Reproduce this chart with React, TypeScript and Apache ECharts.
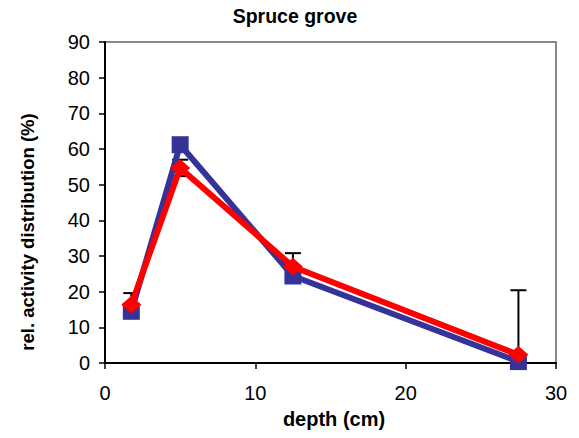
import React, { useEffect, useRef } from "react";
import * as echarts from "echarts";

const depth = [1.75, 5, 12.5, 27.5];
const seriesBlue = [14.5, 61.2, 24.4, 0.4];
const seriesRed = [16.3, 54.7, 27.0, 2.3];
const redError = [3.3, 2.3, 3.8, 18.1];
const yTicks = [0, 10, 20, 30, 40, 50, 60, 70, 80, 90];
const xTicks = [0, 10, 20, 30];

const FONT = 'Arial, "Liberation Sans", sans-serif';

export default function App() {
  const ref = useRef<HTMLDivElement>(null);
  useEffect(() => {
    document.body.style.margin = "0";
    const chart = echarts.init(ref.current!, null, { renderer: "svg" });
    const errData = depth.map((d, i) => [d, seriesRed[i] - redError[i], seriesRed[i] + redError[i]]);
    chart.setOption({
      animation: false,
      backgroundColor: "#ffffff",
      textStyle: { fontFamily: FONT },
      grid: {
        left: 105,
        right: 23,
        top: 42,
        bottom: 75,
        show: true,
        borderColor: "#888888",
        borderWidth: 2,
        backgroundColor: "#ffffff",
      },
      xAxis: {
        type: "value",
        min: xTicks[0],
        max: xTicks[xTicks.length - 1],
        interval: 10,
        axisLine: { show: true, onZero: false, lineStyle: { color: "#000", width: 2 } },
        axisTick: { show: true, inside: false, length: 6, lineStyle: { color: "#000", width: 1.5 } },
        axisLabel: { color: "#000", fontSize: 20, margin: 20, fontFamily: FONT },
        splitLine: { show: false },
      },
      yAxis: {
        type: "value",
        min: yTicks[0],
        max: yTicks[yTicks.length - 1],
        interval: 10,
        axisLine: { show: true, onZero: false, lineStyle: { color: "#000", width: 2 } },
        axisTick: { show: true, inside: false, length: 6, lineStyle: { color: "#000", width: 1.5 } },
        axisLabel: { color: "#000", fontSize: 20, margin: 15, fontFamily: FONT },
        splitLine: { show: false },
      },
      graphic: [
        {
          type: "text",
          x: 295,
          y: 16,
          style: {
            text: "Spruce grove",
            font: `bold 19.5px ${FONT}`,
            fill: "#000",
            textAlign: "center",
            textVerticalAlign: "middle",
          },
        },
        {
          type: "text",
          x: 334,
          y: 419,
          style: {
            text: "depth (cm)",
            font: `bold 20px ${FONT}`,
            fill: "#000",
            textAlign: "center",
            textVerticalAlign: "middle",
          },
        },
        {
          type: "text",
          x: 27,
          y: 232,
          rotation: Math.PI / 2,
          style: {
            text: "rel. activity distribution (%)",
            font: `bold 18.5px ${FONT}`,
            fill: "#000",
            textAlign: "center",
            textVerticalAlign: "middle",
          },
        },
      ],
      series: [
        {
          type: "custom",
          z: 1,
          clip: true,
          data: errData,
          renderItem: (params: any, api: any) => {
            const x = api.value(0);
            const lo = Math.max(api.value(1), 0);
            const hi = api.value(2);
            const pLo = api.coord([x, lo]);
            const pHi = api.coord([x, hi]);
            const w = 8;
            const st = { stroke: "#000", lineWidth: 2 };
            return {
              type: "group",
              children: [
                { type: "line", shape: { x1: pLo[0], y1: pLo[1], x2: pHi[0], y2: pHi[1] }, style: st },
                { type: "line", shape: { x1: pHi[0] - w, y1: pHi[1], x2: pHi[0] + w, y2: pHi[1] }, style: st },
                ...(api.value(1) >= 0
                  ? [{ type: "line", shape: { x1: pLo[0] - w, y1: pLo[1], x2: pLo[0] + w, y2: pLo[1] }, style: st }]
                  : []),
              ],
            };
          },
        },
        {
          type: "line",
          z: 2,
          data: depth.map((d, i) => [d, seriesBlue[i]]),
          symbol: "rect",
          symbolSize: 17,
          lineStyle: { color: "#333399", width: 6 },
          itemStyle: { color: "#333399" },
        },
        {
          type: "line",
          z: 3,
          data: depth.map((d, i) => [d, seriesRed[i]]),
          symbol: "diamond",
          symbolSize: [20, 18],
          lineStyle: { color: "#ff0000", width: 6 },
          itemStyle: { color: "#ff0000" },
        },
      ],
    });
    return () => chart.dispose();
  }, []);
  return <div ref={ref} style={{ width: 579, height: 438 }} />;
}
